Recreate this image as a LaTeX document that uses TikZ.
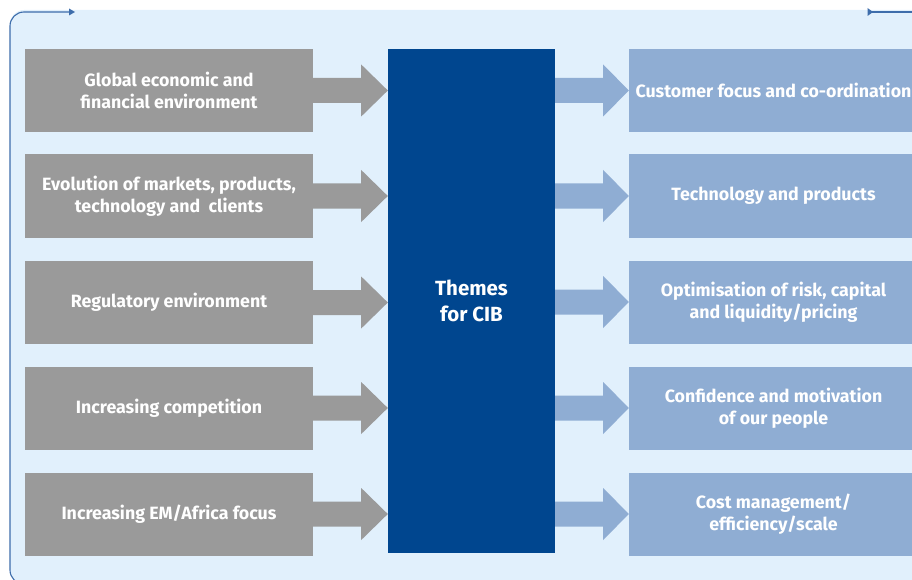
\documentclass[tikz,border=0pt]{standalone}
\usepackage{fontspec}
\setmainfont{Fira Sans}
\usetikzlibrary{calc}
\definecolor{bgblue}{HTML}{E1F0FC}
\definecolor{framecol}{HTML}{3D6DAB}
\definecolor{driver}{HTML}{9A9A9A}
\definecolor{core}{HTML}{00468F}
\definecolor{theme}{HTML}{8FADD3}
\tikzset{
  boxfont/.style={font=\bfseries\fontsize{17.8}{22}\selectfont},
  drivbox/.style={fill=driver, text=white, boxfont,
    minimum width=288pt, minimum height=83pt, inner sep=0pt, align=center},
  themebox/.style={fill=theme, text=white, boxfont,
    minimum width=289pt, minimum height=83pt, inner sep=0pt, align=center},
  corebox/.style={fill=core, text=white, font=\bfseries\fontsize{20.5}{26}\selectfont,
    minimum width=167pt, minimum height=504pt, inner sep=0pt, align=center},
  frameline/.style={framecol, line width=1.1pt},
}
% block arrow from a start point (tail) to an end point (tip)
\newcommand{\blockarrow}[3]{%
  \fill[#1] ($(#2)+(0,-12.5)$) -- ++(48,0) -- ++(0,-13.5)
    -- (#3) -- ($(#2)+(48,26)$) -- ++(0,-13.5)
    -- ($(#2)+(0,12.5)$) -- cycle;}
\begin{document}
\begin{tikzpicture}[x=1pt,y=-1pt]
\useasboundingbox (0,0) rectangle (912,580);
% light panel and its frame line
\begin{scope}
\clip (0,0) rectangle (912,580);
\fill[bgblue, rounded corners=14pt] (10,10) rectangle (940,584);
\coordinate (ftop) at (70,12);
\coordinate (fbot) at (40,584);
\draw[frameline, rounded corners=14pt] (ftop) -- (10,12) -- (10,584) -- (fbot);
\end{scope}
\fill[framecol] (69,8.5) -- (75,12) -- (69,15.5) -- cycle;
\coordinate (rtop) at (868,12);
\coordinate (rend) at (912,12);
\draw[frameline] (rtop) -- (rend);
\fill[framecol] (867.5,8) -- (873,12) -- (867.5,16) -- cycle;

% central theme block
\node[corebox] (c) at (471.5,301) {Themes\\for CIB};

% external drivers
\node[drivbox] (g1) at (169,90.5) {Global economic and\\financial environment};
\node[drivbox] (g2) at (169,196) {Evolution of markets, products,\\technology and\ \ clients};
\node[drivbox] (g3) at (169,302.5) {Regulatory environment};
\node[drivbox] (g4) at (169,408) {Increasing competition};
\node[drivbox] (g5) at (169,514) {Increasing EM/Africa focus};

% strategic themes
\node[themebox] (t1) at (773.5,90.5) {Customer focus and co-ordination};
\node[themebox] (t2) at (773.5,196) {Technology and products};
\node[themebox] (t3) at (773.5,302) {Optimisation of risk, capital\\and liquidity/pricing};
\node[themebox] (t4) at (773.5,408) {Confidence and motivation\\of our people};
\node[themebox] (t5) at (773.5,514) {Cost management/\\efficiency/scale};

\foreach \i in {1,...,5}{
  \coordinate (gs\i) at (g\i.east);
  \coordinate (ge\i) at (c.west |- g\i.east);
  \coordinate (ts\i) at (c.east |- t\i.west);
  \coordinate (te\i) at (t\i.west);
  \blockarrow{driver}{gs\i}{ge\i}
  \blockarrow{theme}{ts\i}{te\i}
}
\end{tikzpicture}
\end{document}
